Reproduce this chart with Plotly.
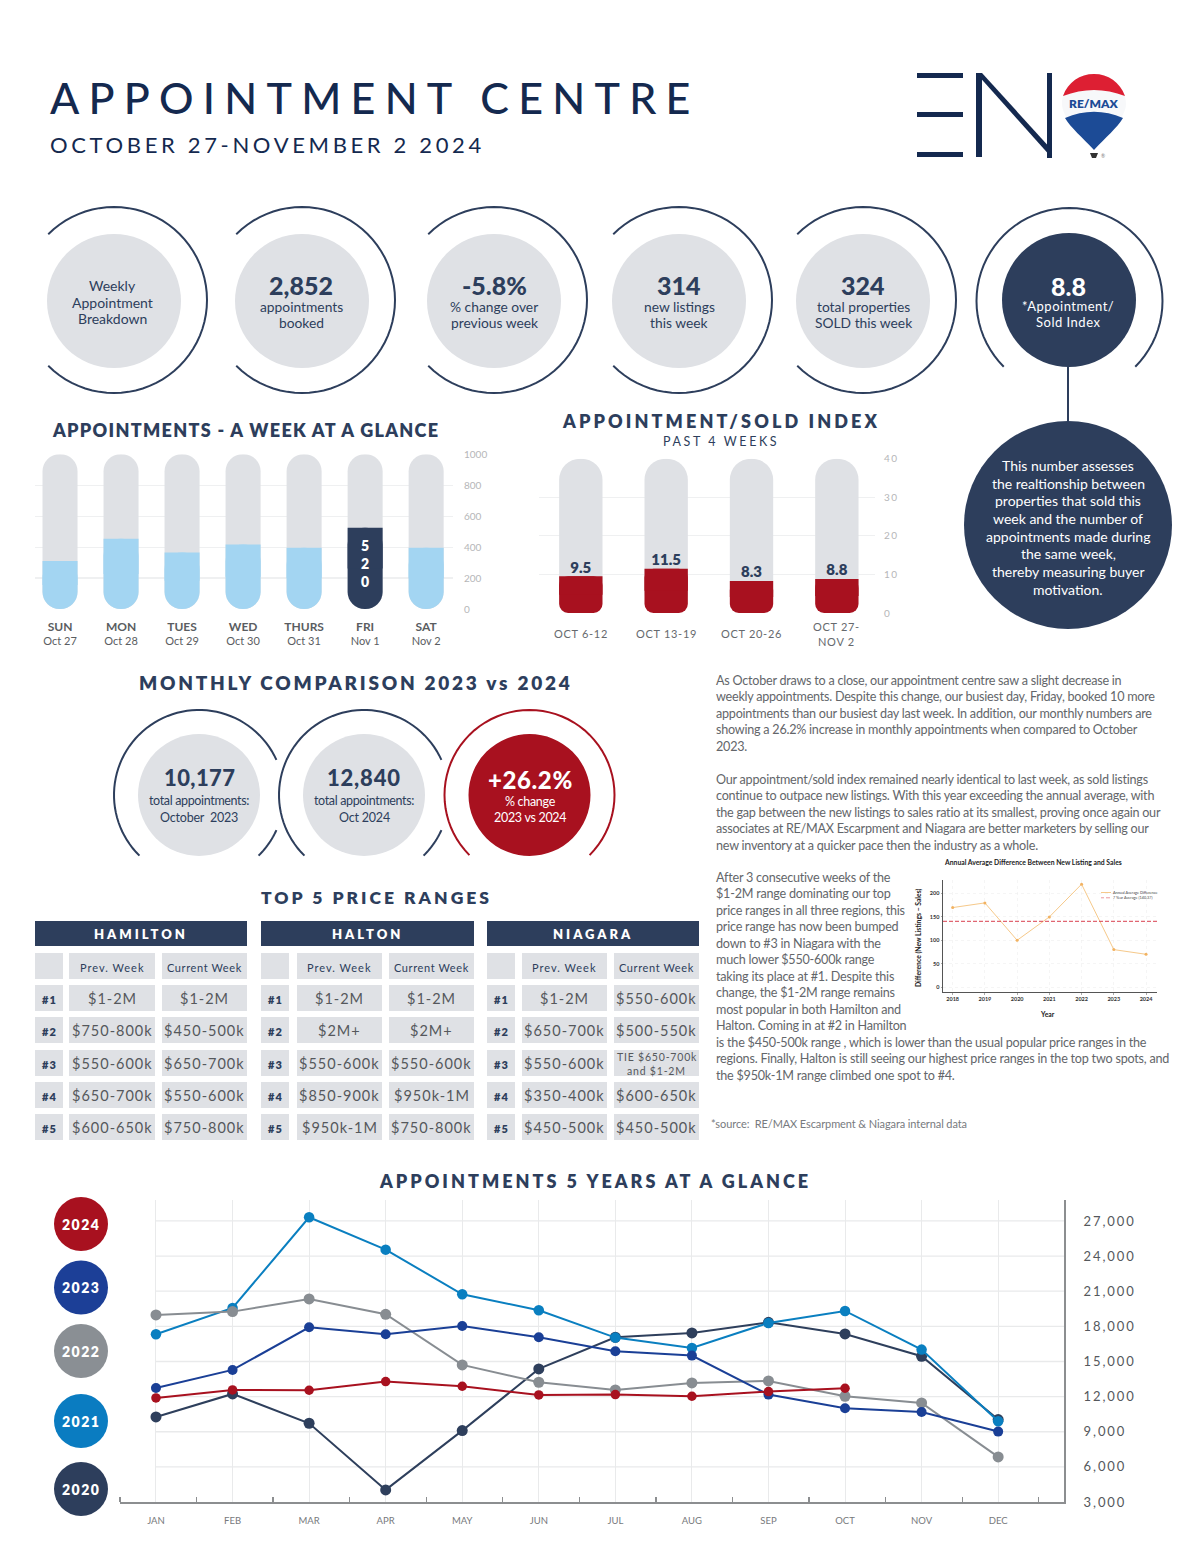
import math
import plotly.graph_objects as go

W, H = 1200, 1553
FONT = "Lato"
NAVY = "#2d3e5c"
DEEP = "#14294f"
GREY = "#dfe1e5"
RED = "#a8111f"
BODY = "#63666a"

# ---------- data ----------
week_days = ["SUN", "MON", "TUES", "WED", "THURS", "FRI", "SAT"]
week_dates = ["Oct 27", "Oct 28", "Oct 29", "Oct 30", "Oct 31", "Nov 1", "Nov 2"]
week_values = [310, 454, 366, 417, 396, 525, 396]
week_ticks = [0, 200, 400, 600, 800, 1000]

index_labels = ["OCT 6-12", "OCT 13-19", "OCT 20-26", "OCT 27-<br>NOV 2"]
index_values = [9.5, 11.5, 8.3, 8.8]
index_ticks = [0, 10, 20, 30, 40]

months = ["JAN", "FEB", "MAR", "APR", "MAY", "JUN", "JUL", "AUG", "SEP", "OCT", "NOV", "DEC"]
y2020 = [10265, 12230, 9725, 4033, 9098, 14364, 17068, 17437, 18348, 17352, 15445, 10038]
y2021 = [17324, 19572, 27313, 24552, 20738, 19373, 17039, 16157, 18291, 19316, 16014, 9895]
y2022 = [18974, 19258, 20340, 19031, 14705, 13226, 12570, 13168, 13340, 12030, 11460, 6850]
y2023 = [12742, 14278, 17921, 17324, 18035, 17068, 15872, 15502, 12172, 11005, 10692, 9013]
y2024 = [11888, 12570, 12542, 13282, 12884, 12144, 12172, 12030, 12428, 12713]
line_ticks = [3000, 6000, 9000, 12000, 15000, 18000, 21000, 24000, 27000]

inset_years = [2018, 2019, 2020, 2021, 2022, 2023, 2024]
inset_values = [170, 180, 100, 150, 220, 80, 70]
inset_average = 140.37

hamilton_prev = ["$1-2M", "$750-800k", "$550-600k", "$650-700k", "$600-650k"]
hamilton_curr = ["$1-2M", "$450-500k", "$650-700k", "$550-600k", "$750-800k"]
halton_prev = ["$1-2M", "$2M+", "$550-600k", "$850-900k", "$950k-1M"]
halton_curr = ["$1-2M", "$2M+", "$550-600k", "$950k-1M", "$750-800k"]
niagara_prev = ["$1-2M", "$650-700k", "$550-600k", "$350-400k", "$450-500k"]
niagara_curr = ["$550-600k", "$500-550k", "TIE $650-700k|and $1-2M", "$600-650k", "$450-500k"]

para_1 = ["As October draws to a close, our appointment centre saw a slight decrease in",
          "weekly appointments. Despite this change, our busiest day, Friday, booked 10 more",
          "appointments than our busiest day last week. In addition, our monthly numbers are",
          "showing a 26.2% increase in monthly appointments when compared to October",
          "2023."]
para_2 = ["Our appointment/sold index remained nearly identical to last week, as sold listings",
          "continue to outpace new listings. With this year exceeding the annual average, with",
          "the gap between the new listings to sales ratio at its smallest, proving once again our",
          "associates at RE/MAX Escarpment and Niagara are better marketers by selling our",
          "new inventory at a quicker pace then the industry as a whole."]
para_3 = ["After 3 consecutive weeks of the", "$1-2M range dominating our top",
          "price ranges in all three regions, this", "price range has now been bumped",
          "down to #3 in Niagara with the", "much lower $550-600k range",
          "taking its place at #1. Despite this", "change, the $1-2M range remains",
          "most popular in both Hamilton and", "Halton. Coming in at #2 in Hamilton",
          "is the $450-500k range , which is lower than the usual popular price ranges in the",
          "regions. Finally, Halton is still seeing our highest price ranges in the top two spots, and",
          "the $950k-1M range climbed one spot to #4."]
bubble_lines = ["This number assesses", "the realtionship between", "properties that sold this",
                "week and the number of", "appointments made during", "the same week,",
                "thereby measuring buyer", "motivation."]

# ---------- helpers ----------
shapes, annos = [], []


def T(x, y, text, size=13, color=NAVY, weight=400, anchor="center", ls=None, xref="x", yref="y", angle=0):
    s = text if ls is None else f'<span style="letter-spacing:{ls}px">{text}</span>'
    annos.append(dict(x=x, y=y, xref=xref, yref=yref, text=s, showarrow=False, xanchor=anchor,
                      yanchor="middle", textangle=angle, borderpad=0, borderwidth=0,
                      font=dict(family=FONT, size=size, color=color, weight=weight)))


def disc(cx, cy, r, color):
    shapes.append(dict(type="circle", xref="x", yref="y", x0=cx - r, x1=cx + r, y0=cy - r, y1=cy + r,
                       fillcolor=color, line_width=0, layer="below"))


def rect(x0, y0, x1, y1, color):
    shapes.append(dict(type="rect", xref="x", yref="y", x0=x0, x1=x1, y0=y0, y1=y1,
                       fillcolor=color, line_width=0, layer="below"))


def arc(cx, cy, r, a0, a1, color=NAVY, w=2):
    n = 60
    pts = [(cx + r * math.cos(math.radians(a0 + (a1 - a0) * i / n)),
            cy + r * math.sin(math.radians(a0 + (a1 - a0) * i / n))) for i in range(n + 1)]
    p = "M " + " L ".join(f"{a:.2f},{b:.2f}" for a, b in pts)
    shapes.append(dict(type="path", xref="x", yref="y", path=p, line=dict(color=color, width=w), layer="below"))


def path(p, color):
    shapes.append(dict(type="path", xref="x", yref="y", path=p, fillcolor=color, line_width=0, layer="below"))


def dx(a, b):
    return [a / W, b / W]


def dy(top, bottom):
    return [1 - bottom / H, 1 - top / H]


def pill_bars(xs, values, top, width, radius, colors, end_radius, xa, ya):
    """Grey full-height pill, then the value pill with its upper end squared off."""
    fig.add_trace(go.Bar(x=xs, y=[top] * len(xs), base=[0] * len(xs), width=width,
                         marker=dict(color=GREY, cornerradius=radius, line_width=0), xaxis=xa, yaxis=ya,
                         hoverinfo="skip", showlegend=False))
    fig.add_trace(go.Bar(x=xs, y=values, base=[0] * len(xs), width=width,
                         marker=dict(color=colors, cornerradius=end_radius, line_width=0), xaxis=xa, yaxis=ya,
                         hoverinfo="skip", showlegend=False))
    fig.add_trace(go.Bar(x=xs, y=[v / 2 for v in values], base=[v / 2 for v in values], width=width,
                         marker=dict(color=colors, line_width=0), xaxis=xa, yaxis=ya,
                         hoverinfo="skip", showlegend=False))


fig = go.Figure()
# keeps the page-pixel layer alive
fig.add_trace(go.Scatter(x=[600], y=[700], mode="markers", marker=dict(opacity=0, size=1), xaxis="x", yaxis="y",
                         hoverinfo="skip", showlegend=False))

# ---------- header ----------
T(50, 97, "APPOINTMENT CENTRE", size=43, color=DEEP, anchor="left", ls=9.25, weight=500)
T(50, 144, "OCTOBER 27-NOVEMBER 2 2024", size=22, color=DEEP, anchor="left", ls=3.65)
# logo
rect(917, 73, 963, 78, DEEP)
rect(917, 112, 963, 117, DEEP)
rect(917, 152, 963, 157, DEEP)
rect(976, 73, 982, 157, DEEP)
rect(1047, 73, 1052, 158, DEEP)
path("M 976,73 L 982,73 L 1052,150 L 1052,158 Z", DEEP)
path("M 1094,150 C 1082,136 1062,118 1062,104 C 1062,87 1076,74 1094,74 C 1112,74 1126,87 1126,104 C 1126,118 1106,136 1094,150 Z", "#f7f8fa")
path("M 1063,96 C 1068,82 1080,74 1094,74 C 1108,74 1120,82 1125,96 Q 1094,84 1063,96 Z", "#dd1f33")
path("M 1065,118 Q 1094,105.5 1123,118 C 1117,128 1106,137 1094,150 C 1082,137 1071,128 1065,118 Z", "#1c4b96")
path("M 1090,153 L 1098,153 L 1096,158 L 1092,158 Z", "#333333")
T(1094, 103, "RE/MAX", size=12, color="#1c4b96", weight=800)
T(1103, 156, "®", size=5, color="#777777")

# ---------- top rings ----------
ring_centres = [114, 302, 494, 679, 863]
for cx in ring_centres:
    arc(cx, 300, 93, -135, 135)
    disc(cx, 301, 67, GREY)
T(112, 285, "Weekly", 14)
T(112, 302, "Appointment", 14)
T(112, 318, "Breakdown", 14)
for cx, big, l1, l2 in [(301, "2,852", "appointments", "booked"),
                        (494, "-5.8%", "% change over", "previous week"),
                        (679, "314", "new listings", "this week"),
                        (863, "324", "total properties", "SOLD this week")]:
    T(cx, 285, big, 25, weight=900)
    T(cx, 306, l1, 13.8)
    T(cx, 322, l2, 13.8)
arc(1069.5, 301, 93, 135, 405)
disc(1069, 300, 67, NAVY)
T(1068, 286, "8.8", 25, "#ffffff", 900)
T(1068, 306, "*Appointment/", 13, "#ffffff", ls=0.5)
T(1068, 322, "Sold Index", 13, "#ffffff", ls=0.5)
rect(1067, 366, 1069, 423, NAVY)
disc(1068, 525, 104, NAVY)
for i, line in enumerate(bubble_lines):
    T(1068, 465.5 + i * 17.65, line, 14, "#ffffff")

# ---------- section titles ----------
T(245, 430, "APPOINTMENTS - A WEEK AT A GLANCE", 18, NAVY, 800, ls=1.3)
T(721, 421, "APPOINTMENT/SOLD INDEX", 18, NAVY, 800, ls=3.1)
T(721, 441, "PAST 4 WEEKS", 12.5, NAVY, ls=2.6)
T(356, 682, "MONTHLY COMPARISON 2023 vs 2024", 19, NAVY, 800, ls=2.75)
T(376, 897, "TOP 5 PRICE RANGES", 17.5, NAVY, 800, ls=3)
T(595, 1181, "APPOINTMENTS 5 YEARS AT A GLANCE", 18, NAVY, 800, ls=3)

# ---------- week chart ----------
week_x = list(range(len(week_days)))
pill_bars(week_x, week_values, 1000, 0.574, 17.5,
          [NAVY if d == "FRI" else "#a3d5f2" for d in week_days], 17.5, "x2", "y2")
T(365, 563.5, "5<br>2<br>0", 14, "#ffffff", 800)

# ---------- index chart ----------
index_x = list(range(len(index_values)))
pill_bars(index_x, index_values, 40, 0.508, 21.5, RED, 9, "x3", "y3")
fig.add_trace(go.Scatter(x=index_x, y=index_values, mode="text", text=[str(v) for v in index_values],
                         textposition="top center", textfont=dict(family=FONT, size=15, color=NAVY, weight=800),
                         xaxis="x3", yaxis="y3", hoverinfo="skip", showlegend=False, cliponaxis=False))
for i, lab in enumerate(index_labels):
    parts = lab.split("<br>")
    if len(parts) == 1:
        T(i, 633, lab, 11, "#66696d", xref="x3", ls=0.7)
    else:
        T(i, 626, parts[0], 11, "#66696d", xref="x3", ls=0.7)
        T(i, 641, parts[1], 11, "#66696d", xref="x3", ls=0.7)

# ---------- monthly rings ----------
for cx in (199, 364):
    arc(cx, 795, 85, -24.4, -225.5)
    arc(cx, 795, 85, 24.4, 45.5)
    disc(cx, 795, 61, GREY)
arc(529.5, 795, 85, 135, 405, RED)
disc(529.5, 795, 61, RED)
T(199, 777, "10,177", 22, NAVY, 900, ls=0.4)
T(199, 800, "total appointments:", 12.5, ls=-0.35)
T(199, 817, "October  2023", 12.5, ls=-0.2)
T(364, 777, "12,840", 22, NAVY, 900, ls=0.8)
T(364, 800, "total appointments:", 12.5, ls=-0.35)
T(364, 817, "Oct 2024", 12.5, ls=-0.2)
T(530, 779, "+26.2%", 24, "#ffffff", 900, ls=0.6)
T(530, 801, "% change", 12.5, "#ffffff", ls=-0.3)
T(530, 817, "2023 vs 2024", 12.5, "#ffffff", ls=-0.3)

# ---------- tables ----------
row_tops = [985, 1017, 1050, 1082, 1114]
tables = [("HAMILTON", 35, 34, 127, 212, hamilton_prev, hamilton_curr),
          ("HALTON", 261, 36, 128, 213, halton_prev, halton_curr),
          ("NIAGARA", 487, 35, 127, 212, niagara_prev, niagara_curr)]
for name, x0, c1, c2, tw, prev, curr in tables:
    rect(x0, 921, x0 + tw, 946, NAVY)
    T(x0 + 106, 934, name, 13, "#ffffff", 800, ls=3)
    cols = [(x0, x0 + 28), (x0 + c1, x0 + c2 - 7), (x0 + c2, x0 + tw)]
    for a, b in cols:
        rect(a, 953, b, 979, GREY)
    T(sum(cols[1]) / 2, 967, "Prev. Week", 11, NAVY, ls=1)
    T(sum(cols[2]) / 2, 967, "Current Week", 11, NAVY, ls=0.6)
    for i, top in enumerate(row_tops):
        for a, b in cols:
            rect(a, top, b, top + 26, GREY)
        T(sum(cols[0]) / 2, top + 14, f"#{i + 1}", 11, NAVY, 800, ls=1.2)
        T(sum(cols[1]) / 2, top + 13, prev[i], 14.5, "#55585c", ls=1)
        if "|" in curr[i]:
            a1, a2 = curr[i].split("|")
            T(sum(cols[2]) / 2, top + 7, a1, 10.5, "#55585c", ls=0.8)
            T(sum(cols[2]) / 2, top + 21, a2, 10.5, "#55585c", ls=0.8)
        else:
            T(sum(cols[2]) / 2, top + 13, curr[i], 14.5, "#55585c", ls=1)

# ---------- paragraphs ----------
for i, line in enumerate(para_1):
    T(716, 680 + i * 16.5, line, 12.6, BODY, anchor="left", ls=-0.24)
for i, line in enumerate(para_2):
    T(716, 779 + i * 16.5, line, 12.6, BODY, anchor="left", ls=-0.24)
for i, line in enumerate(para_3):
    T(716, 877.5 + i * 16.47, line, 12.6, BODY, anchor="left", ls=-0.22)
T(711, 1123, "*source:  RE/MAX Escarpment &amp; Niagara internal data", 11, "#777a7e", anchor="left", ls=-0.1)

# ---------- inset chart ----------
fig.add_trace(go.Scatter(x=inset_years, y=inset_values, mode="lines+markers",
                         line=dict(color="#f6c98a", width=1), marker=dict(color="#f2b261", size=3),
                         xaxis="x4", yaxis="y4", hoverinfo="skip", showlegend=False))
shapes.append(dict(type="line", xref="x4 domain", yref="y4", x0=0, x1=1, y0=inset_average, y1=inset_average,
                   line=dict(color="#d9404f", width=1.2, dash="4px,2px"), opacity=0.8, layer="above"))
T(1033, 862, "Annual Average Difference Between New Listing and Sales", 6.8, "#222222", 700)
T(918, 938, "Difference (New Listings − Sales)", 6.8, "#222222", 700, angle=-90)
T(1047, 1014, "Year", 6.8, "#222222", 700)
rect(1101, 892, 1111, 893, "#f6c98a")
rect(1101, 897.5, 1104, 898.2, "#e06a74")
rect(1106, 897.5, 1110, 898.2, "#e06a74")
T(1113, 892.5, "Annual Average Difference", 3.8, "#444444", anchor="left")
T(1113, 897.8, "7 Year Average (140.37)", 3.8, "#444444", anchor="left")

# ---------- five-year line chart ----------
for cy, yr, col in [(1224, "2024", RED), (1287.5, "2023", "#1c3f97"), (1351, "2022", "#8a8f94"),
                    (1421, "2021", "#0a7cc1"), (1489, "2020", NAVY)]:
    disc(81, cy, 27, col)
    T(81, cy, yr, 14, "#ffffff", 800, ls=1.5)
mx = list(range(12))
for v in line_ticks[1:]:
    shapes.append(dict(type="line", xref="x5", yref="y5", x0=0, x1=11.86, y0=v, y1=v,
                       line=dict(color="#e9eaeb", width=1.3), layer="below"))
for name, vals, col, size, lw in [("2020", y2020, "#2e3f5c", 11, 2), ("2021", y2021, "#0a7fc0", 10.5, 2),
                                  ("2022", y2022, "#888d92", 11, 2), ("2023", y2023, "#1a3f96", 10, 2),
                                  ("2024", y2024, RED, 9.5, 2)]:
    fig.add_trace(go.Scatter(x=mx[:len(vals)], y=vals, mode="lines+markers", name=name,
                             line=dict(color=col, width=lw), marker=dict(color=col, size=size),
                             xaxis="x5", yaxis="y5", hoverinfo="skip", showlegend=False))

# ---------- layout ----------
hidden = dict(visible=False, fixedrange=True)
grid = "#eff0f1"
fig.update_layout(
    width=W, height=H, margin=dict(l=0, r=0, t=0, b=0, pad=0, autoexpand=False), autosize=False, paper_bgcolor="#ffffff",
    plot_bgcolor="rgba(0,0,0,0)", barmode="overlay", showlegend=False, shapes=shapes, annotations=annos,
    font=dict(family=FONT, color=BODY),
    xaxis=dict(domain=[0, 1], range=[0, W], **hidden),
    yaxis=dict(domain=[0, 1], range=[H, 0], **hidden),
    xaxis2=dict(domain=dx(35, 453), range=[-0.41, 6.44], anchor="y2", showgrid=False, zeroline=False,
                tickmode="array", tickvals=week_x,
                ticktext=[f'<span style="font-size:12px;font-weight:700">{a}</span><br><span style="font-size:11px">{b}</span>'
                          for a, b in zip(week_days, week_dates)],
                tickfont=dict(family=FONT, size=11.5, color="#5a5d61"), ticks="", ticklabelstandoff=9, fixedrange=True),
    yaxis2=dict(domain=dy(454.3, 609), range=[0, 1000], anchor="x2", side="right", tickmode="array",
                tickvals=week_ticks, gridcolor=grid, gridwidth=1.2, zeroline=False,
                tickfont=dict(family=FONT, size=10, color="#b5b6b8"), ticks="", ticklabelstandoff=10, fixedrange=True),
    xaxis3=dict(domain=dx(539, 875), range=[-0.49, 3.447], anchor="y3", showgrid=False, zeroline=False,
                showticklabels=False, ticks="", fixedrange=True),
    yaxis3=dict(domain=dy(458.7, 613), range=[0, 40], anchor="x3", side="right", tickmode="array",
                tickvals=index_ticks, ticktext=[f'<span style="letter-spacing:1.5px">{v}</span>' for v in index_ticks],
                gridcolor=grid, gridwidth=1.2, zeroline=False,
                tickfont=dict(family=FONT, size=10, color="#b5b6b8"), ticks="", ticklabelstandoff=8, fixedrange=True),
    xaxis4=dict(domain=dx(943, 1157), range=[2017.7, 2024.34], anchor="y4", tickmode="array", tickvals=inset_years,
                showline=True, linecolor="#555555", linewidth=1, showgrid=True, gridcolor="#eeeeee", gridwidth=0.6,
                griddash="dot", zeroline=False, ticks="outside", ticklen=1.5, tickcolor="#555555", tickwidth=0.5,
                tickfont=dict(family=FONT, size=5.5, color="#333333", weight=700), fixedrange=True),
    yaxis4=dict(domain=dy(880, 992), range=[-10.7, 229], anchor="x4", tickmode="array", tickvals=[0, 50, 100, 150, 200],
                showline=True, linecolor="#555555", linewidth=1, showgrid=True, gridcolor="#eeeeee", gridwidth=0.6,
                griddash="dot", zeroline=False, ticks="outside", ticklen=1.5, tickcolor="#555555", tickwidth=0.5,
                tickfont=dict(family=FONT, size=5.5, color="#333333", weight=700), fixedrange=True),
    xaxis5=dict(domain=dx(120, 1064), range=[-0.47, 11.86], anchor="y5", tickmode="array", tickvals=mx, ticktext=months,
                showline=True, linecolor="#8c8e90", linewidth=2, gridcolor="#e9eaeb", gridwidth=1, showgrid=True,
                zeroline=False, ticks="", ticklabelstandoff=9,
                minor=dict(tickmode="array", tickvals=[i - 0.5 + 0.03 for i in range(13)], ticks="inside", ticklen=5,
                           tickwidth=1.3, tickcolor="#8c8e90", showgrid=False),
                tickfont=dict(family=FONT, size=9.5, color="#77797c"), fixedrange=True),
    yaxis5=dict(domain=dy(1200, 1502), range=[3000, 3000 + 302 / 35.13 * 3000], anchor="x5", side="right",
                tickmode="array", tickvals=line_ticks,
                ticktext=[f'<span style="letter-spacing:1.9px">{v:,}</span>' for v in line_ticks],
                showline=True, linecolor="#8c8e90", linewidth=2, showgrid=False, zeroline=False, ticks="",
                ticklabelstandoff=15, tickfont=dict(family=FONT, size=13, color="#55585c"), fixedrange=True),
)

fig.write_html("out.html", config=dict(displayModeBar=False, staticPlot=True),
               post_script="document.body.style.margin='0';document.documentElement.style.overflow='hidden';")
